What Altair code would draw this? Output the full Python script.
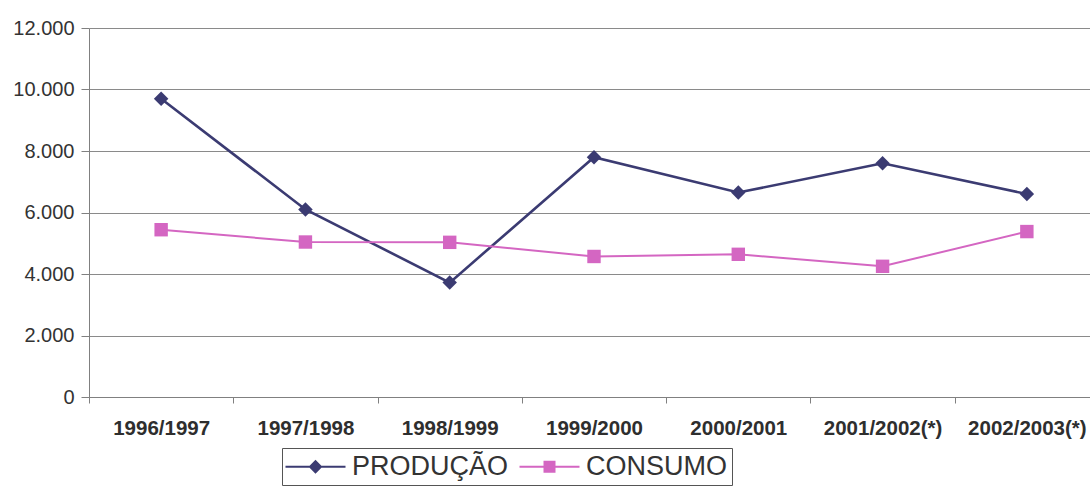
import altair as alt
import pandas as pd

# Safras (harvest years) on the category axis
safras = [
    "1996/1997", "1997/1998", "1998/1999", "1999/2000",
    "2000/2001", "2001/2002(*)", "2002/2003(*)",
]
# Values per series
producao = [9700, 6100, 3720, 7800, 6650, 7600, 6600]
consumo = [5440, 5040, 5030, 4570, 4640, 4250, 5380]

series = ["PRODUÇÃO", "CONSUMO"]
colors = ["#3b3b72", "#d466c2"]
y_ticks = [0, 2000, 4000, 6000, 8000, 10000, 12000]

# Legend glyphs: a short line with the marker on it (custom symbol paths)
legend_paths = [
    "M-2.5,-0.17L7.5,-0.17L7.5,0.17L-2.5,0.17Z M2.5,-1.15L3.65,0L2.5,1.15L1.35,0Z",
    "M-2.5,-0.17L7.5,-0.17L7.5,0.17L-2.5,0.17Z M1.5,-1L3.5,-1L3.5,1L1.5,1Z",
]

rows = []
for s, vals in zip(series, [producao, consumo]):
    for c, v in zip(safras, vals):
        rows.append({"safra": c, "serie": s, "valor": v})
df = pd.DataFrame(rows)

FONT = "Liberation Sans"

x_enc = alt.X(
    "safra:N",
    sort=safras,
    scale=alt.Scale(range=[0, 1010], paddingInner=0, paddingOuter=0),
    axis=alt.Axis(
        title=None, labelAngle=0, labelFont=FONT, labelFontSize=20.5,
        labelFontWeight="bold", labelColor="#2e2e2e", tickBand="extent",
        tickSize=6, labelPadding=15, domainColor="#808080", tickColor="#808080",
        grid=False, labelOverlap=False, labelFlush=False,
    ),
)
y_enc = alt.Y(
    "valor:Q",
    scale=alt.Scale(domain=[0, 12000], nice=False),
    axis=alt.Axis(
        title=None, values=y_ticks, labelFont=FONT, labelFontSize=20,
        labelColor="#333333", tickSize=8, labelPadding=7,
        labelExpr="replace(format(datum.value, ','), ',', '.')",
        domainColor="#808080", tickColor="#808080",
        gridColor="#8a8a8a", gridWidth=1.2,
    ),
)

base = alt.Chart(df)

layers = []
for s, col in zip(series, colors):
    layers.append(
        base.transform_filter(alt.datum.serie == s)
        .mark_line(color=col, strokeWidth=2.6 if s == "PRODUÇÃO" else 2)
        .encode(x=x_enc, y=y_enc)
    )
for s, col, shp, sz in zip(series, colors, ["diamond", "square"], [210, 180]):
    layers.append(
        base.transform_filter(alt.datum.serie == s)
        .mark_point(shape=shp, filled=True, size=sz, color=col, opacity=1)
        .encode(x=x_enc, y=y_enc)
    )

legend = alt.Legend(
    title=None, orient="none", legendX=193, legendY=420, direction="horizontal",
    labelFont=FONT, labelFontSize=27, labelColor="#333333", labelOffset=38,
    symbolSize=144, symbolStrokeWidth=0, padding=5, columnPadding=10,
    strokeColor="#555555", fillColor="white",
)
# Legend-only layer: no rows pass the filter, the legend comes from the scales
legend_layer = (
    base.transform_filter("datum.valor < 0")
    .mark_point(filled=True, opacity=1, size=144)
    .encode(
        x=x_enc,
        y=y_enc,
        color=alt.Color("serie:N", scale=alt.Scale(domain=series, range=colors), legend=legend),
        shape=alt.Shape("serie:N", scale=alt.Scale(domain=series, range=legend_paths), legend=legend),
    )
)
layers.append(legend_layer)

chart = (
    alt.layer(*layers)
    .properties(
        width=1001,
        height=369,
        autosize=alt.AutoSizeParams(type="none"),
        padding={"left": 89, "top": 28, "right": 0, "bottom": 89},
        background="white",
    )
    .configure_view(stroke=None)
)

chart.save("out.html", embed_options={"renderer": "svg", "actions": False})
